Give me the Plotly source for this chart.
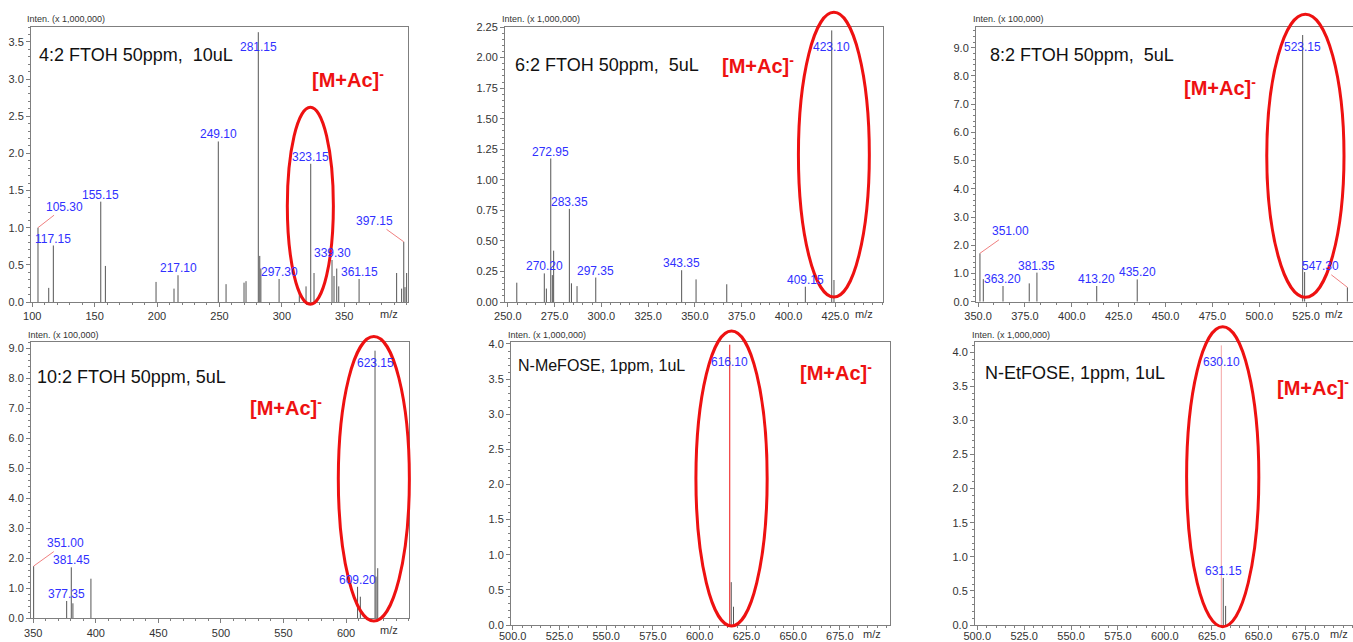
import plotly.graph_objects as go

W, H = 1353, 642

# ---------------- data (intensity in the unit shown on each axis) ----------------
# Panel 1: 4:2 FTOH (x 1,000,000)
p1_mz = [104.6, 113.2, 116.9, 154.9, 158.6, 199.2, 213.6, 216.8, 249.1, 255.3, 269.7, 271.3,
         281.15, 282.3, 283.2, 297.8, 314.0, 319.4, 323.15, 325.8, 340.2, 341.8, 344.0, 345.6,
         361.9, 392.0, 396.0, 397.7, 398.7, 400.0]
p1_int = [1.00, 0.19, 0.76, 1.35, 0.485, 0.27, 0.18, 0.36, 2.16, 0.24, 0.26, 0.28,
          3.63, 0.62, 0.45, 0.31, 0.15, 0.21, 1.86, 0.39, 0.565, 0.35, 0.45, 0.21,
          0.31, 0.39, 0.18, 0.81, 0.20, 0.39]
p1_lbl_text = ["105.30", "117.15", "155.15", "217.10", "249.10", "281.15", "297.30", "323.15",
               "339.30", "361.15", "397.15"]
p1_lbl_at = [104.6, 116.9, 154.9, 216.8, 249.1, 281.15, 297.8, 323.15, 340.2, 361.9, 397.7]

# Panel 2: 6:2 FTOH (x 1,000,000)
p2_mz = [254.8, 269.5, 270.6, 272.95, 273.8, 274.5, 282.9, 284.0, 287.0, 297.0, 342.9, 350.6,
         367.0, 409.0, 423.1, 424.3]
p2_int = [0.158, 0.234, 0.11, 1.174, 0.22, 0.42, 0.762, 0.153, 0.13, 0.20, 0.26, 0.185,
          0.145, 0.125, 2.222, 0.18]
p2_lbl_text = ["270.20", "272.95", "283.35", "297.35", "343.35", "409.15", "423.10"]
p2_lbl_at = [269.5, 272.95, 282.9, 297.0, 342.9, 409.0, 423.1]

# Panel 3: 8:2 FTOH (x 100,000)
p3_mz = [351.0, 352.8, 363.3, 377.3, 381.4, 413.3, 434.9, 523.15, 524.2, 547.0]
p3_int = [1.715, 0.80, 0.556, 0.65, 1.03, 0.556, 0.79, 9.45, 1.05, 0.51]
p3_lbl_text = ["351.00", "363.20", "381.35", "413.20", "435.20", "523.15", "547.30"]
p3_lbl_at = [351.0, 363.3, 381.4, 413.3, 434.9, 523.15, 547.0]

# Panel 4: 10:2 FTOH (x 100,000)
p4_mz = [350.3, 376.7, 380.4, 381.7, 396.1, 609.2, 611.4, 623.15, 624.0, 625.3]
p4_int = [1.74, 0.577, 1.70, 0.50, 1.32, 1.05, 0.72, 8.92, 1.39, 1.67]
p4_lbl_text = ["351.00", "377.35", "381.45", "609.20", "623.15"]
p4_lbl_at = [350.3, 376.7, 380.4, 609.2, 623.15]

# Panel 5: N-MeFOSE (x 1,000,000)
p5_mz = [616.1, 616.9, 618.1]
p5_int = [3.99, 0.61, 0.26]
p5_lbl_text = ["616.10"]
p5_lbl_at = [616.1]

# Panel 6: N-EtFOSE (x 1,000,000)
p6_mz = [630.1, 631.15, 632.4]
p6_int = [4.10, 0.69, 0.28]
p6_lbl_text = ["630.10", "631.15"]
p6_lbl_at = [630.1, 631.15]

titles = ["4:2 FTOH 50ppm,\u00a0 10uL", "6:2 FTOH 50ppm,\u00a0 5uL", "8:2 FTOH 50ppm,\u00a0 5uL",
          "10:2 FTOH 50ppm, 5uL", "N-MeFOSE, 1ppm, 1uL", "N-EtFOSE, 1ppm, 1uL"]
units = ["Inten. (x 1,000,000)", "Inten. (x 1,000,000)", "Inten. (x 100,000)",
         "Inten. (x 100,000)", "Inten. (x 1,000,000)", "Inten. (x 1,000,000)"]
# ellipse around [M+Ac]- ion: (mz0, mz1, int0, int1)
ellipses = [(304.4, 341.3, -0.03, 2.62), (405.3, 443.2, 0.04, 2.37), (504.0, 545.2, 0.16, 10.19),
            (593.8, 650.6, -0.09, 9.39), (598.0, 636.1, -0.014, 4.185), (611.6, 650.1, -0.025, 4.374)]

# ---------------- layout / style ----------------
FONT = "Liberation Sans, Arial"
BLUE = "#3030ff"
RED = "#ee1111"
SALMON = "#f08080"
AXC = "#7f7f7f"

# pixel boxes of the plotting areas: (left, right, top, bottom)
boxes = [(31, 408, 27, 302), (505, 883, 27, 302), (976, 1353, 26.7, 301.7),
         (31, 409, 342.3, 618.3), (511, 890, 342.3, 625), (975, 1353, 341.7, 625)]
xranges = [(99.0, 401.1), (248.5, 450.5), (348.9, 550.0), (348.2, 650.3), (499.1, 701.8), (498.8, 700.3)]
yranges = [(0, 3.70), (0, 2.25), (0, 9.745), (0, 9.2), (0, 4.024), (0, 4.154)]
xdt = [(50, 10, "d"), (25, 5, ".1f"), (25, 25 / 3, ".1f"), (50, 10, "d"), (25, 5, ".1f"), (25, 5, ".1f")]
ydt = [(0.5, 0.1, ".1f"), (0.25, 0.05, ".2f"), (1, 0.2, ".1f"), (1, 0.2, ".1f"), (0.5, 0.1, ".1f"), (0.5, 0.1, ".1f")]
x0tick = [100, 250, 350, 350, 500, 500]
xlab_standoff = [0, 0, 0, 0, -3, -3]

title_pos = [(36.7, 55, 18), (513, 65, 18), (988, 55, 18), (35, 377, 18), (516, 366, 16), (982.7, 373, 18)]
mac_pos = [(310, 78), (720, 65), (1181.7, 87), (248, 406), (798, 372), (1275, 386)]
unit_pos = [(25, 19.3), (500, 19.3), (970.7, 19.3), (26, 335), (505.7, 334.7), (970, 334.7)]
mz_lbl_x = [0.979, 0.979, 0.979, 0.976, 0.981, 0.992]

# label style: 'in' = below the top of a very tall peak, tuple = leader line offsets
label_style = {
    (0, "105.30"): (27, -21), (0, "397.15"): (-29, -21), (0, "281.15"): "in",
    (1, "423.10"): "in",
    (2, "351.00"): (31, -22), (2, "547.30"): (-27, -21), (2, "523.15"): "in",
    (3, "351.00"): (32, -23), (3, "623.15"): "in",
    (4, "616.10"): "in", (5, "630.10"): "in",
}
in_shift = {0: -15, 1: -17, 2: -12, 3: -12, 4: -17, 5: -17}
highlight = {4: (616.1, RED), 5: (630.1, "#f4a3a3")}

panels = [(p1_mz, p1_int, p1_lbl_text, p1_lbl_at), (p2_mz, p2_int, p2_lbl_text, p2_lbl_at),
          (p3_mz, p3_int, p3_lbl_text, p3_lbl_at), (p4_mz, p4_int, p4_lbl_text, p4_lbl_at),
          (p5_mz, p5_int, p5_lbl_text, p5_lbl_at), (p6_mz, p6_int, p6_lbl_text, p6_lbl_at)]

fig = go.Figure()
annotations = []
shapes = []
layout = {}

for i, (mz, inten, ltxt, lat) in enumerate(panels):
    n = i + 1
    xa = "x" if n == 1 else f"x{n}"
    ya = "y" if n == 1 else f"y{n}"
    hl = highlight.get(i)
    xs, ys, hx, hy = [], [], [], []
    for m, v in zip(mz, inten):
        if hl and m == hl[0]:
            hx += [m, m, None]
            hy += [0, v, None]
        else:
            xs += [m, m, None]
            ys += [0, v, None]
    fig.add_trace(go.Scatter(x=xs, y=ys, mode="lines", line=dict(color="#555555", width=1),
                             xaxis=xa, yaxis=ya, showlegend=False, hoverinfo="skip"))
    if hl:
        fig.add_trace(go.Scatter(x=hx, y=hy, mode="lines", line=dict(color=hl[1], width=1),
                                 xaxis=xa, yaxis=ya, showlegend=False, hoverinfo="skip"))

    l, r, t, b = boxes[i]
    xd = [l / W, min(r / W, 1.0)]
    yd = [1 - b / H, 1 - t / H]
    common = dict(showline=True, linecolor=AXC, linewidth=1, mirror=True, ticks="outside",
                  ticklen=4, tickcolor=AXC, showgrid=False, zeroline=False, automargin=False,
                  tickfont=dict(family=FONT, size=11, color="#333333"))
    xr = xranges[i]
    major, minor_dt, fmt = xdt[i]
    xt = []
    v = x0tick[i]
    while v <= xr[1] - major / 2:
        xt.append(v)
        v += major
    layout["xaxis" if n == 1 else f"xaxis{n}"] = dict(
        domain=xd, range=list(xr), anchor=ya, tickmode="array", tickvals=xt,
        ticktext=[format(t, fmt) for t in xt], ticklabelstandoff=xlab_standoff[i],
        minor=dict(ticks="outside", ticklen=2, tickcolor=AXC, dtick=minor_dt, tick0=x0tick[i]),
        **common)
    layout["yaxis" if n == 1 else f"yaxis{n}"] = dict(
        domain=yd, range=list(yranges[i]), anchor=xa, tick0=0, dtick=ydt[i][0],
        tickformat=ydt[i][2],
        minor=dict(ticks="outside", ticklen=2, tickcolor=AXC, dtick=ydt[i][1], tick0=0),
        **common)

    # peak labels
    for txt, at in zip(ltxt, lat):
        val = inten[mz.index(at)]
        st = label_style.get((i, txt))
        base = dict(x=at, y=val, xref=xa, yref=ya, text=txt,
                    font=dict(family=FONT, size=12, color=BLUE))
        if isinstance(st, tuple):
            annotations.append(dict(base, showarrow=True, arrowhead=0, arrowwidth=1,
                                    arrowcolor=SALMON, ax=st[0], ay=st[1], standoff=0))
        elif st == "in":
            annotations.append(dict(base, showarrow=False, yanchor="middle", yshift=in_shift[i]))
        else:
            annotations.append(dict(base, showarrow=False, yanchor="middle", yshift=7))

    # m/z axis label
    annotations.append(dict(x=mz_lbl_x[i], y=0, xref=f"{xa} domain", yref=f"{ya} domain",
                            text="m/z", showarrow=False, yanchor="top",
                            yshift=-4 - xlab_standoff[i],
                            font=dict(family=FONT, size=11, color="#333333")))
    # unit label
    ux, uy = unit_pos[i]
    annotations.append(dict(x=ux / W, y=1 - uy / H, xref="paper", yref="paper", text=units[i],
                            showarrow=False, xanchor="left", yanchor="middle",
                            font=dict(family=FONT, size=9, color="#333333")))
    # sample title
    tx, ty, ts = title_pos[i]
    annotations.append(dict(x=tx / W, y=1 - ty / H, xref="paper", yref="paper", text=titles[i],
                            showarrow=False, xanchor="left", yanchor="middle",
                            font=dict(family=FONT, size=ts, color="#111111")))
    # [M+Ac]-
    mx, my = mac_pos[i]
    annotations.append(dict(x=mx / W, y=1 - my / H, xref="paper", yref="paper",
                            text="<b>[M+Ac]<sup>-</sup></b>", showarrow=False,
                            xanchor="left", yanchor="middle",
                            font=dict(family=FONT, size=20, color=RED)))
    # ellipse around the [M+Ac]- peak (data units -> axis-domain fractions)
    e0, e1, f0, f1 = ellipses[i]
    yr = yranges[i]
    shapes.append(dict(type="circle", xref=f"{xa} domain", yref=f"{ya} domain",
                       x0=(e0 - xr[0]) / (xr[1] - xr[0]), x1=(e1 - xr[0]) / (xr[1] - xr[0]),
                       y0=(f0 - yr[0]) / (yr[1] - yr[0]), y1=(f1 - yr[0]) / (yr[1] - yr[0]),
                       line=dict(color=RED, width=3)))

fig.update_layout(template="none", width=W, height=H,
                  margin=dict(l=0, r=0, t=0, b=0, pad=0, autoexpand=False),
                  paper_bgcolor="white", plot_bgcolor="white",
                  font=dict(family=FONT, size=11, color="#333333"),
                  annotations=annotations, shapes=shapes, **layout)
fig.write_html("out.html", post_script="document.body.style.margin='0px';")
